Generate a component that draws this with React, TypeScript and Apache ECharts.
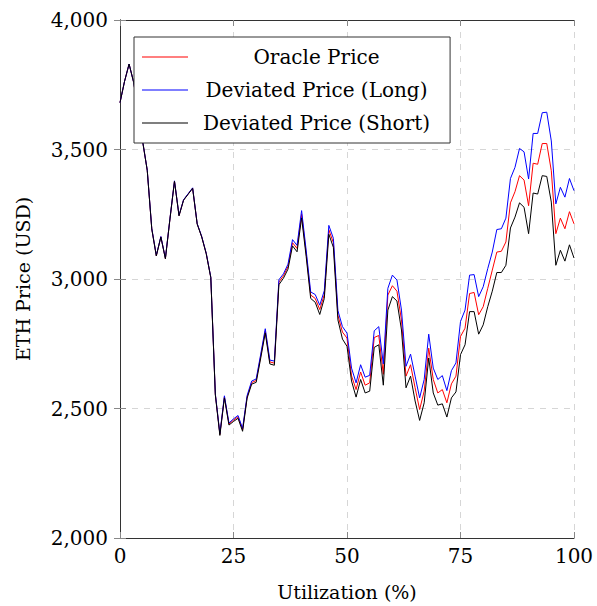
import React, { useEffect, useRef } from "react";
import * as echarts from "echarts";

const utilization: number[] = Array.from({ length: 101 }, (_, i) => i);

const oraclePrice: number[] = [
  3681, 3763, 3830, 3760, 3650, 3530, 3420, 3194, 3090, 3163,
  3079, 3232, 3378, 3245, 3305, 3328, 3351, 3213, 3163, 3098,
  3006, 2555, 2400, 2545, 2440, 2455, 2468, 2418, 2545, 2600,
  2608, 2703, 2800, 2680, 2675, 2988, 3012, 3048, 3140, 3118,
  3250, 3100, 2938, 2925, 2882, 2940, 3190, 3140, 2860, 2795,
  2772, 2626, 2573, 2641, 2590, 2599, 2774, 2782, 2632, 2938,
  2974, 2953, 2842, 2625, 2669, 2580, 2496, 2567, 2733, 2612,
  2560, 2573, 2522, 2595, 2625, 2778, 2810, 2944, 2948, 2862,
  2893, 2964, 3034, 3104, 3107, 3143, 3294, 3337, 3399, 3382,
  3283, 3447, 3443, 3523, 3523, 3418, 3175, 3235, 3194, 3260,
  3213,
];

const longPrice: number[] = [
  3681, 3763, 3830, 3760, 3650, 3530, 3421, 3195, 3091, 3164,
  3080, 3233, 3379, 3246, 3306, 3329, 3352, 3214, 3164, 3099,
  3007, 2557, 2403, 2549, 2444, 2460, 2473, 2423, 2550, 2606,
  2614, 2710, 2808, 2687, 2683, 2997, 3020, 3057, 3152, 3130,
  3264, 3112, 2950, 2940, 2899, 2955, 3207, 3157, 2878, 2816,
  2791, 2656, 2599, 2669, 2621, 2628, 2800, 2816, 2672, 2964,
  3015, 2996, 2880, 2663, 2710, 2625, 2541, 2612, 2787, 2656,
  2612, 2627, 2569, 2646, 2676, 2836, 2880, 3015, 3017, 2932,
  2970, 3040, 3104, 3191, 3194, 3235, 3388, 3431, 3504, 3491,
  3386, 3562, 3562, 3642, 3644, 3533, 3290, 3354, 3316, 3388,
  3341,
];

const shortPrice: number[] = [
  3681, 3763, 3830, 3760, 3650, 3530, 3419, 3193, 3089, 3162,
  3078, 3231, 3377, 3244, 3304, 3327, 3350, 3212, 3162, 3097,
  3005, 2552, 2396, 2541, 2436, 2450, 2462, 2412, 2540, 2594,
  2601, 2695, 2792, 2672, 2667, 2978, 3003, 3038, 3128, 3105,
  3236, 3088, 2925, 2910, 2863, 2925, 3173, 3122, 2842, 2768,
  2740, 2606, 2544, 2612, 2560, 2567, 2736, 2746, 2590, 2880,
  2932, 2915, 2803, 2580, 2625, 2529, 2454, 2522, 2695, 2560,
  2513, 2518, 2467, 2541, 2564, 2708, 2746, 2874, 2874, 2787,
  2823, 2893, 2953, 3025, 3025, 3053, 3197, 3239, 3294, 3277,
  3175, 3332, 3328, 3399, 3396, 3297, 3053, 3111, 3069, 3132,
  3081,
];

const seriesNames = ["Oracle Price", "Deviated Price (Long)", "Deviated Price (Short)"];
const seriesColors = ["#ff0000", "#0000ff", "#000000"];
const yTicks = [2000, 2500, 3000, 3500, 4000];

const FONT = "DejaVu Serif";

export default function App() {
  const ref = useRef<HTMLDivElement>(null);
  useEffect(() => {
    if (!ref.current) return;
    const chart = echarts.init(ref.current, undefined, { renderer: "svg" });
    const seriesData = [oraclePrice, longPrice, shortPrice];
    const axisLine = { show: true, lineStyle: { color: "#333", width: 1 } };
    const tick = { show: true, inside: true, length: 6, lineStyle: { color: "#888", width: 1 } };
    const splitLine = {
      show: true,
      lineStyle: { color: "#d6d6d6", width: 1, type: [6, 6] as any },
    };
    chart.setOption({
      animation: false,
      backgroundColor: "#ffffff",
      grid: { left: 120, top: 20, width: 454, height: 521, containLabel: false },
      legend: {
        show: true,
        orient: "vertical",
        left: 134,
        top: 37,
        padding: [10, 20, 10, 8],
        itemGap: 13,
        itemWidth: 46,
        itemHeight: 1,
        icon: "rect",
        backgroundColor: "#ffffff",
        borderColor: "#333",
        borderWidth: 1,
        borderRadius: 0,
        data: seriesNames.map((name, k) => ({
          name,
          itemStyle: { color: seriesColors[k] },
        })),
        formatter: "{c|{name}}",
        textStyle: {
          fontFamily: FONT,
          fontSize: 20,
          color: "#000",
          rich: {
            c: { width: 247, align: "center", fontFamily: FONT, fontSize: 20, color: "#000" },
          },
        },
      },
      xAxis: [
        {
          type: "value",
          min: 0,
          max: 100,
          interval: 25,
          name: "Utilization (%)",
          nameLocation: "middle",
          nameGap: 44,
          nameTextStyle: { fontFamily: FONT, fontSize: 19, color: "#000" },
          axisLine,
          axisTick: tick,
          splitLine,
          axisLabel: { fontFamily: FONT, fontSize: 20, color: "#000", margin: 8 },
        },
        {
          type: "value",
          position: "top",
          min: 0,
          max: 100,
          interval: 25,
          axisLine,
          axisTick: tick,
          splitLine: { show: false },
          axisLabel: { show: false },
        },
      ],
      yAxis: [
        {
          type: "value",
          min: yTicks[0],
          max: yTicks[yTicks.length - 1],
          interval: 500,
          name: "ETH Price (USD)",
          nameLocation: "middle",
          nameGap: 88,
          nameTextStyle: { fontFamily: FONT, fontSize: 19, color: "#000" },
          axisLine,
          axisTick: tick,
          splitLine,
          axisLabel: {
            fontFamily: FONT,
            fontSize: 20,
            color: "#000",
            margin: 12,
            formatter: (v: number) => v.toLocaleString("en-US"),
          },
        },
        {
          type: "value",
          position: "right",
          min: 2000,
          max: 4000,
          interval: 500,
          axisLine,
          axisTick: tick,
          splitLine: { show: false },
          axisLabel: { show: false },
        },
      ],
      series: seriesNames.map((name, k) => ({
        name,
        type: "line",
        xAxisIndex: 0,
        yAxisIndex: 0,
        symbol: "none",
        showSymbol: false,
        lineStyle: { color: seriesColors[k], width: 1 },
        itemStyle: { color: seriesColors[k] },
        data: utilization.map((u, i) => [u, seriesData[k][i]]),
      })),
    });
    return () => chart.dispose();
  }, []);
  return (
    <div
      ref={ref}
      style={{ position: "fixed", left: 0, top: 0, width: 597, height: 606 }}
    />
  );
}
